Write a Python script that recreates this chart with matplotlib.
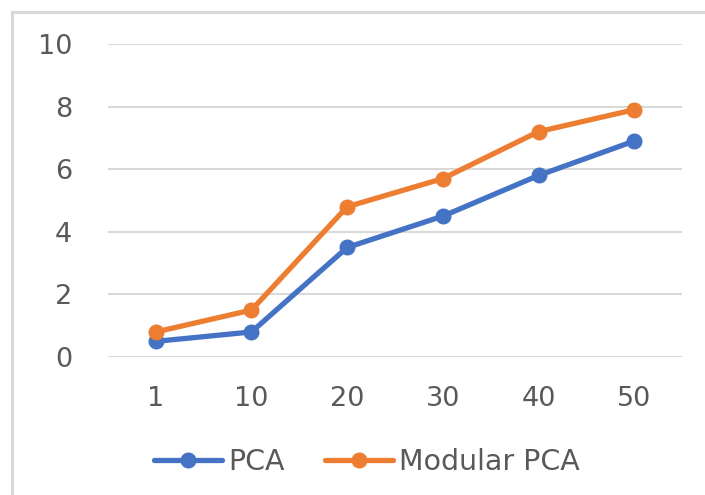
import matplotlib
matplotlib.use('Agg')
import matplotlib.pyplot as plt
from matplotlib.lines import Line2D

#%% data
categories = ['1', '10', '20', '30', '40', '50']
pca = [0.5, 0.8, 3.5, 4.5, 5.8, 6.9]
modular_pca = [0.8, 1.5, 4.8, 5.7, 7.2, 7.9]
yticks = [0, 2, 4, 6, 8, 10]

#%% style
plt.rcParams['font.family'] = ['DejaVu Sans']
txt = '#595959'
grid = '#D9D9D9'
blue = '#4472C4'
orange = '#ED7D31'

fig = plt.figure(figsize=(7.05, 4.95), dpi=100)
ax = fig.add_axes([108/705, 1-357/495, 574/705, 313/495])

x = range(len(categories))
ax.plot(x, pca, color=blue, lw=3.8, marker='o', ms=10.5, label='PCA', solid_capstyle='round')
ax.plot(x, modular_pca, color=orange, lw=3.8, marker='o', ms=10.5, label='Modular PCA', solid_capstyle='round')

ax.set_ylim(0, 10)
ax.set_xlim(-0.5, len(categories)-0.5)
ax.set_yticks(yticks)
ax.set_xticks(list(x))
ax.set_xticklabels(categories)
ax.yaxis.grid(True, color=grid, lw=1.5)
ax.set_axisbelow(True)
for s in ax.spines.values():
    s.set_visible(False)
ax.tick_params(length=0, labelsize=19.5, colors=txt)
ax.tick_params(axis='y', pad=26)
ax.tick_params(axis='x', pad=21)

leg = fig.legend(loc='center', bbox_to_anchor=(367/705, 1-462/495), ncol=2, frameon=False,
                 fontsize=20.5, handlelength=2.4, columnspacing=1.4, handletextpad=0.22)
for t in leg.get_texts():
    t.set_color(txt)

# chart border (top and left visible)
fig.add_artist(Line2D([12/705, 12/705], [0, 1-12/495], color=grid, lw=2.2))
fig.add_artist(Line2D([12/705, 1], [1-12/495, 1-12/495], color=grid, lw=2.2))

fig.savefig('out.png', dpi=100)
